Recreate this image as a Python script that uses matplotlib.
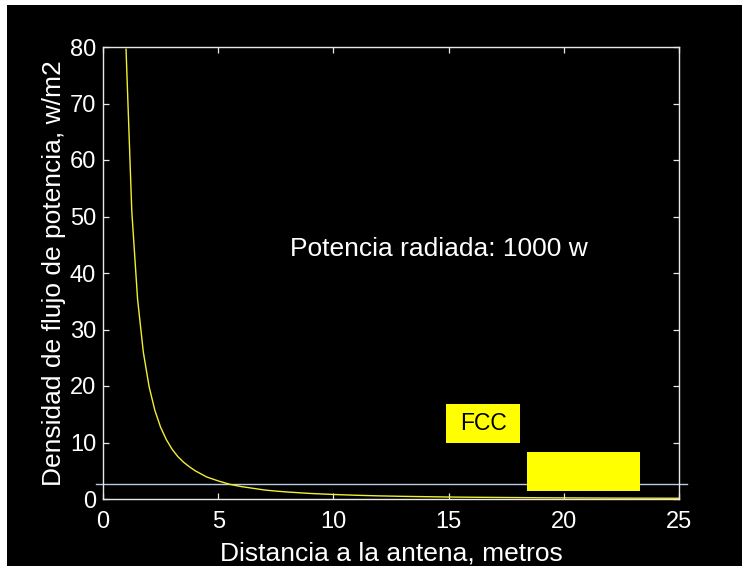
import matplotlib
matplotlib.use("Agg")
import matplotlib.pyplot as plt
from matplotlib.patches import Rectangle

plt.rcParams['font.family'] = ['Liberation Sans', 'DejaVu Sans']

# Power flux density vs. distance from the antenna (1000 W radiated)
distance_m = [1.00, 1.25, 1.50, 1.75, 2.00, 2.25, 2.50, 2.75, 3.00, 3.25, 3.50,
              3.75, 4.00, 4.50, 5.00, 5.50, 6.00, 6.50, 7.00, 7.50, 8.00, 9.00,
              10.0, 11.0, 12.0, 13.0, 14.0, 15.0, 16.0, 17.0, 18.0, 19.0, 20.0,
              21.0, 22.0, 23.0, 24.0, 25.0]
density_w_m2 = [79.6, 50.9, 35.4, 26.0, 19.9, 15.7, 12.7, 10.5, 8.8, 7.5, 6.5,
                5.7, 5.0, 3.9, 3.2, 2.6, 2.2, 1.9, 1.6, 1.4, 1.24, 0.98,
                0.80, 0.66, 0.55, 0.47, 0.41, 0.35, 0.31, 0.28, 0.25, 0.22, 0.20,
                0.18, 0.16, 0.15, 0.14, 0.13]

fcc_limit = 2.65
x_ticks = [0, 5, 10, 15, 20, 25]
y_ticks = [0, 10, 20, 30, 40, 50, 60, 70, 80]

W, H = 742, 566
fig = plt.figure(figsize=(W / 100, H / 100), dpi=100, facecolor='white')
# black panel with a thin white margin on the left and top
panel = Rectangle((7 / W, 0), 1 - 7 / W, 1 - 5 / H, transform=fig.transFigure,
                  facecolor='black', edgecolor='none', zorder=-10)
fig.add_artist(panel)

ax = fig.add_axes([103 / W, 1 - 499 / H, (679 - 103) / W, (499 - 47) / H])
ax.set_zorder(1)
ax.set_facecolor('black')
ax.set_xlim(0, 25)
ax.set_ylim(0, 80)
ax.set_xticks(x_ticks)
ax.set_yticks(y_ticks)

for s in ax.spines.values():
    s.set_color('#e8e8e8')
    s.set_linewidth(1.0)
ax.tick_params(direction='in', top=True, right=True, length=4.5, width=0.9,
               color='#e8e8e8', labelcolor='white', labelsize=17)
ax.tick_params(axis='x', pad=9)
ax.tick_params(axis='y', pad=5)

ax.plot(distance_m, density_w_m2, color='#f0f030', lw=1.0, zorder=3)
ax.plot([-0.3, 25.35], [fcc_limit, fcc_limit], color='#b8cce0', lw=1.0,
        clip_on=False, zorder=2)

# FCC label and the highlighted band
ax.add_patch(Rectangle((18.4, 1.47), 4.9, 6.9, facecolor='#ffff00',
                       edgecolor='none', zorder=4))
ax.add_patch(Rectangle((14.9, 10.0), 3.2, 6.85, facecolor='#ffff00',
                       edgecolor='none', zorder=4))
ax.text(16.5, 13.4, 'FCC', color='black', fontsize=16.5, ha='center',
        va='center', zorder=5)

ax.text(8.1, 44.3, 'Potencia radiada: 1000 w', color='white', fontsize=19,
        ha='left', va='center')

ax.set_xlabel('Distancia a la antena, metros', color='white', fontsize=19,
              labelpad=5.5)
ax.set_ylabel('Densidad de flujo de potencia, w/m2', color='white',
              fontsize=19, labelpad=3)

fig.savefig('out.png', dpi=100, facecolor=fig.get_facecolor())
